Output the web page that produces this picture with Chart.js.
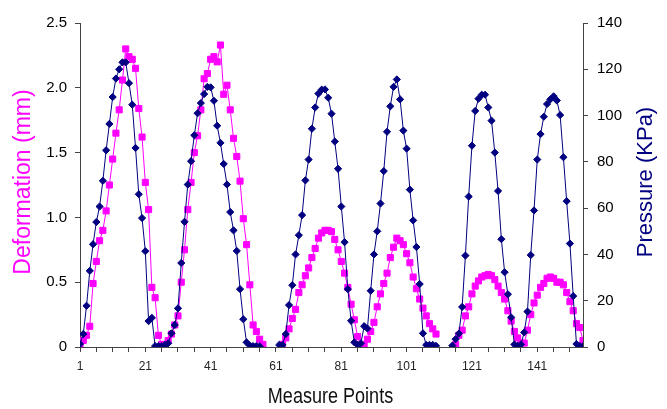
<!DOCTYPE html>
<html>
<head>
<meta charset="utf-8">
<script src="https://cdn.jsdelivr.net/npm/chart.js@4"></script>
<style>
	html, body { margin: 0; padding: 0; background: #fff; }
	canvas { display: block; }
</style>
</head>
<body>
<canvas id="chart" width="667" height="409"></canvas>
<script>
// measure points 1..155
const measurePoints = Array.from({ length: 155 }, (_, i) => i + 1);
const xTickLabels = [1, 21, 41, 61, 81, 101, 121, 141];

// Deformation (mm), left axis, null = no marker in the source
const deformation = [
	0.02, 0.05, 0.09, 0.16, 0.49, 0.66, 0.82, 0.90, 1.05, 1.25,
	1.45, 1.65, 1.83, 2.06, 2.30, 2.24, 2.22, 2.15, 1.84, 1.62,
	1.27, 1.06, 0.46, 0.38, 0.09, 0.02, 0.02, 0.05, 0.10, 0.17,
	0.24, 0.50, 0.75, 1.06, 1.27, 1.50, 1.63, 1.83, 2.07, 2.11,
	2.22, 2.24, 2.20, 2.33, 1.95, 2.02, 1.83, 1.61, 1.47, 1.28,
	0.99, 0.79, 0.48, 0.17, 0.12, 0.06, 0.02, null, null, null,
	null, null, 0.02, 0.07, 0.14, 0.22, 0.29, 0.42, 0.48, 0.55,
	0.61, 0.69, 0.76, 0.84, 0.88, 0.90, 0.90, 0.89, 0.83, 0.75,
	0.66, 0.57, 0.46, 0.33, 0.21, 0.08, 0.01, 0.02, 0.06, 0.12,
	0.19, 0.31, 0.41, 0.49, 0.57, 0.69, 0.77, 0.84, 0.82, 0.79,
	0.72, 0.65, 0.54, 0.45, 0.37, 0.30, 0.24, 0.18, 0.14, 0.10,
	null, null, null, null, null, 0.02, 0.09, 0.13, 0.24, 0.31,
	0.41, 0.47, 0.51, 0.54, 0.55, 0.56, 0.55, 0.52, 0.47, 0.42,
	0.37, 0.28, 0.20, 0.12, 0.07, 0.03, 0.03, 0.13, 0.25, 0.34,
	0.40, 0.46, 0.49, 0.53, 0.54, 0.53, 0.50, 0.50, 0.48, 0.42,
	0.35, 0.28, 0.18, 0.15, 0.05,
];

// Pressure (KPa), right axis
const pressure = [
	1.3, 5.6, 17.8, 32.9, 44.4, 54, 60.7, 71.8, 85, 96.4,
	108, 116, 120, 123, 123, 114, 104.7, 86, 66, 55.7,
	41.4, 11.2, 12.6, 0.4, 0.4, 0.4, 0.9, 1.6, 5.9, 9.5,
	16.7, 36.3, 54.1, 70.2, 80.3, 91.5, 101, 105.4, 109.3, 112.4,
	112.2, 106.4, 95.6, 88.2, 79.1, 70.2, 58.3, 50.4, 41.5, 25,
	12, 2, 0.6, 0.4, 0.4, 0.3, null, null, null, null,
	null, 0.9, 0.9, 5.6, 18.1, 26.7, 40, 48.3, 57, 72,
	81, 94.3, 103.5, 109.5, 111.2, 111.3, 107.7, 100.8, 88.8, 77,
	60.7, 45.3, 25, 11.3, 2, 0.9, 1.6, 9, 8, 24.3,
	40, 50, 62, 76, 93, 104, 112.4, 115.6, 107, 93.5,
	85.7, 68, 54.7, 43.2, 27.2, 5.9, 0.9, 0.9, 0.9, 0.5,
	null, null, null, null, 0.6, 3.4, 5.8, 17.3, 39.5, 65,
	87, 102, 107.3, 109, 109, 103.5, 97.8, 84, 67.4, 46.6,
	32.3, 22.8, 12.8, 1.1, 0.5, 1.1, 6.3, 15.3, 39.7, 59,
	81, 92, 99.5, 105, 107, 108.3, 106.5, 100.2, 82, 63,
	44.7, 22, 1.3, 0.4, 0.3,
];

const MAGENTA = "#ff00ff";
const NAVY = "#000080";
const AXIS = "#444";

function toPoints(values) {
	return values.map((v, i) => ({ x: measurePoints[i], y: v }));
}

// axis titles drawn by hand so the right one reads bottom-to-top like the original
const axisTitles = {
	id: "axisTitles",
	afterDraw(chart) {
		const ctx = chart.ctx;
		const area = chart.chartArea;
		const midY = 182;
		ctx.save();
		ctx.textAlign = "center";
		ctx.textBaseline = "middle";

		ctx.font = "23px 'Liberation Sans', Arial, sans-serif";
		ctx.fillStyle = MAGENTA;
		ctx.translate(24, midY);
		ctx.rotate(-Math.PI / 2);
		ctx.fillText("Deformation (mm)", 0, 0);
		ctx.setTransform(1, 0, 0, 1, 0, 0);

		ctx.font = "22px 'Liberation Sans', Arial, sans-serif";
		ctx.fillStyle = NAVY;
		ctx.translate(646, midY);
		ctx.rotate(-Math.PI / 2);
		ctx.fillText("Pressure (KPa)", 0, 0);
		ctx.setTransform(1, 0, 0, 1, 0, 0);

		// the original's x title is a condensed face
		ctx.font = "22px 'Liberation Sans', Arial, sans-serif";
		ctx.fillStyle = "#111";
		ctx.translate((area.left + area.right) / 2 - 1, 397);
		ctx.scale(0.82, 1);
		ctx.fillText("Measure Points", 0, 0);
		ctx.restore();
	},
};

new Chart(document.getElementById("chart"), {
	type: "line",
	data: {
		datasets: [
			{
				label: "Pressure",
				data: toPoints(pressure),
				yAxisID: "yPressure",
				borderColor: NAVY,
				backgroundColor: NAVY,
				borderWidth: 1,
				pointStyle: "rectRot",
				pointRadius: 3.6,
				pointBorderWidth: 1,
				tension: 0,
				spanGaps: false,
				order: 0,
			},
			{
				label: "Deformation",
				data: toPoints(deformation),
				yAxisID: "yDef",
				borderColor: MAGENTA,
				backgroundColor: MAGENTA,
				borderWidth: 1,
				pointStyle: "rect",
				pointRadius: 4.3,
				pointBorderWidth: 1,
				tension: 0,
				spanGaps: false,
				order: 1,
			},
		],
	},
	options: {
		responsive: false,
		devicePixelRatio: 1,
		animation: false,
		layout: { padding: { top: 23, left: 0, right: 0, bottom: 0 } },
		plugins: {
			legend: { display: false },
			tooltip: { enabled: false },
		},
		scales: {
			x: {
				type: "linear",
				min: 1,
				max: 155,
				afterBuildTicks: (axis) => {
					const marks = [];
					for (let v = 1; v <= 155; v += 5) marks.push({ value: v });
					axis.ticks = marks;
				},
				afterFit: (axis) => {
					axis.height = 62;
				},
				ticks: {
					autoSkip: false,
					maxRotation: 0,
					padding: 7,
					color: "#222",
					font: { family: "'Liberation Sans', Arial", size: 12 },
					callback: (v) => (xTickLabels.includes(v) ? String(v) : ""),
				},
				grid: { drawOnChartArea: false, tickLength: 5, color: AXIS },
				border: { color: AXIS, width: 1 },
			},
			yDef: {
				position: "left",
				min: 0,
				max: 2.5,
				afterFit: (axis) => {
					axis.width = 80;
				},
				ticks: {
					stepSize: 0.5,
					padding: 8,
					color: "#000",
					font: { family: "'Liberation Sans', Arial", size: 15 },
				},
				grid: { drawOnChartArea: false, tickLength: 5, color: AXIS },
				border: { color: AXIS, width: 1 },
			},
			yPressure: {
				position: "right",
				min: 0,
				max: 140,
				afterFit: (axis) => {
					axis.width = 84;
				},
				ticks: {
					stepSize: 20,
					padding: 9,
					color: "#000",
					font: { family: "'Liberation Sans', Arial", size: 15 },
				},
				grid: { drawOnChartArea: false, tickLength: 5, color: AXIS },
				border: { color: AXIS, width: 1 },
			},
		},
	},
	plugins: [axisTitles],
});
</script>
</body>
</html>
